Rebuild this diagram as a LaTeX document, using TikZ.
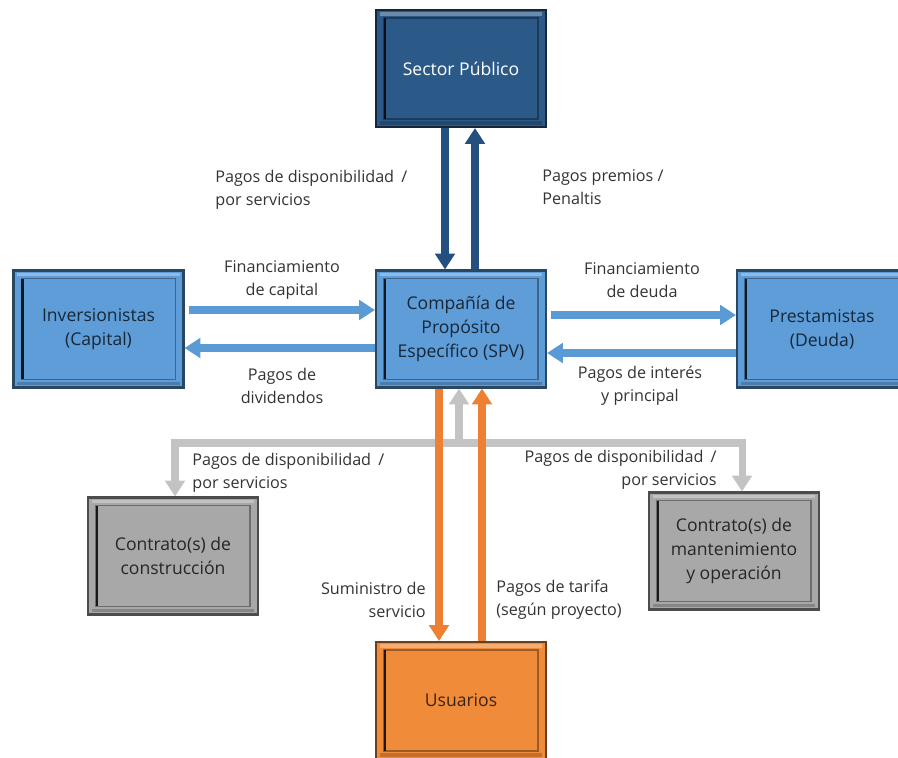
\documentclass[tikz,border=0pt]{standalone}
\usepackage{fontspec}
\setmainfont{Open Sans}
\usetikzlibrary{arrows.meta,calc}
\definecolor{azulosc}{HTML}{2C5A88}
\definecolor{azul}{HTML}{5E9DD8}
\definecolor{gris}{HTML}{A8A8A8}
\definecolor{naranja}{HTML}{F08B3A}
\definecolor{flechaosc}{HTML}{23507E}
\definecolor{flechaazul}{HTML}{5B9BD5}
\definecolor{flechagris}{HTML}{C3C3C3}
\definecolor{flechanar}{HTML}{EE8033}
\tikzset{
  caja/.style={draw=#1!45!black, line width=1.2pt, fill=#1,
    minimum width=3.4cm, minimum height=2.34cm, align=center, inner sep=2pt,
    font=\fontsize{10}{13.7}\selectfont,
    path picture={
      \draw[#1!65!black, line width=0.7pt]
        ([shift={(4.5pt,4.5pt)}]path picture bounding box.south west) rectangle
        ([shift={(-4.5pt,-4.5pt)}]path picture bounding box.north east);
      \draw[#1!15!black, line width=1.6pt]
        ([shift={(5.1pt,4.7pt)}]path picture bounding box.south west) --
        ([shift={(5.1pt,-4.7pt)}]path picture bounding box.north west);
      \draw[white, opacity=0.3, line width=2pt]
        ([shift={(2.2pt,-2.2pt)}]path picture bounding box.north west) --
        ([shift={(-2.2pt,-2.2pt)}]path picture bounding box.north east);
      \draw[black, opacity=0.2, line width=2pt]
        ([shift={(2.2pt,2.2pt)}]path picture bounding box.south west) --
        ([shift={(-2.2pt,2.2pt)}]path picture bounding box.south east);
    }},
  etiq/.style={font=\fontsize{9.2}{13}\selectfont, text=black!80, inner sep=0pt},
  flecha/.style={line width=4pt, -{Triangle[width=11pt,length=9pt]}}
}
\begin{document}
\begin{tikzpicture}[x=0.02cm, y=-0.02cm]
  \useasboundingbox (0,0) rectangle (898,757);

  \node[caja=azulosc, text=white] (sector) at (461,68.5) {Sector Público};
  \node[caja=azul, text=azul!25!black] (spv) at (461,329) {Compañía de\\Propósito\\Específico (SPV)};
  \node[caja=azul, text=azul!25!black] (inv) at (98.5,329) {Inversionistas\\(Capital)};
  \node[caja=azul, text=azul!25!black] (prest) at (822,329) {Prestamistas\\(Deuda)};
  \node[caja=gris, text=black!85] (constr) at (173,556) {Contrato(s) de\\construcción};
  \node[caja=gris, text=black!85] (mant) at (734,551) {Contrato(s) de\\mantenimiento\\y operación};
  \node[caja=naranja, text=naranja!25!black] (usu) at (461,700.5) {Usuarios};

  \draw[flecha, flechaosc] ($(sector.south)+(-16,0)$) -- ($(spv.north)+(-16,0)$);
  \draw[flecha, flechaosc] ($(spv.north)+(14,0)$) -- ($(sector.south)+(14,0)$);

  \draw[flecha, flechaazul] ($(inv.east)+(4,-19)$) -- ($(spv.west)+(0,-19)$);
  \draw[flecha, flechaazul] ($(spv.west)+(0,19)$) -- ($(inv.east)+(0,19)$);
  \draw[flecha, flechaazul] ($(spv.east)+(4,-14)$) -- ($(prest.west)+(0,-14)$);
  \draw[flecha, flechaazul] ($(prest.west)+(0,24)$) -- ($(spv.east)+(0,24)$);

  \coordinate (hub) at (459,443);
  \draw[flecha, flechagris] (hub) -- (hub |- spv.south);
  \draw[flecha, flechagris] (hub) -| ($(constr.north)+(2,0)$);
  \draw[flecha, flechagris] (hub) -| ($(mant.north)+(8,0)$);

  \draw[flecha, flechanar] ($(spv.south)+(-22,0)$) -- ($(usu.north)+(-22,0)$);
  \draw[flecha, flechanar] ($(usu.north)+(21,0)$) -- ($(spv.south)+(21,0)$);

  \node[etiq, anchor=west, align=left] (l1) at (215,190) {Pagos de disponibilidad\hspace{0.45em}/\\por servicios};
  \node[etiq, anchor=west, align=left] (l2) at (542,187) {Pagos premios /\\Penaltis};
  \node[etiq, align=center] (l3) at (282,280) {Financiamiento\\de capital};
  \node[etiq, align=center] (l4) at (282,386) {Pagos de\\dividendos};
  \node[etiq, align=center] (l5) at (642,280) {Financiamiento\\de deuda};
  \node[etiq, align=center] (l6) at (640,386) {Pagos de interés\\y principal};
  \node[etiq, anchor=west, align=left] (l7) at (192,473) {Pagos de disponibilidad\hspace{0.45em}/\\por servicios};
  \node[etiq, anchor=east, align=right] (l8) at (717,470) {Pagos de disponibilidad\hspace{0.45em}/\\por servicios};
  \node[etiq, anchor=east, align=right] (l9) at (426,600) {Suministro de\\servicio};
  \node[etiq, anchor=west, align=left] (l10) at (496,600) {Pagos de tarifa\\(según proyecto)};
\end{tikzpicture}
\end{document}
